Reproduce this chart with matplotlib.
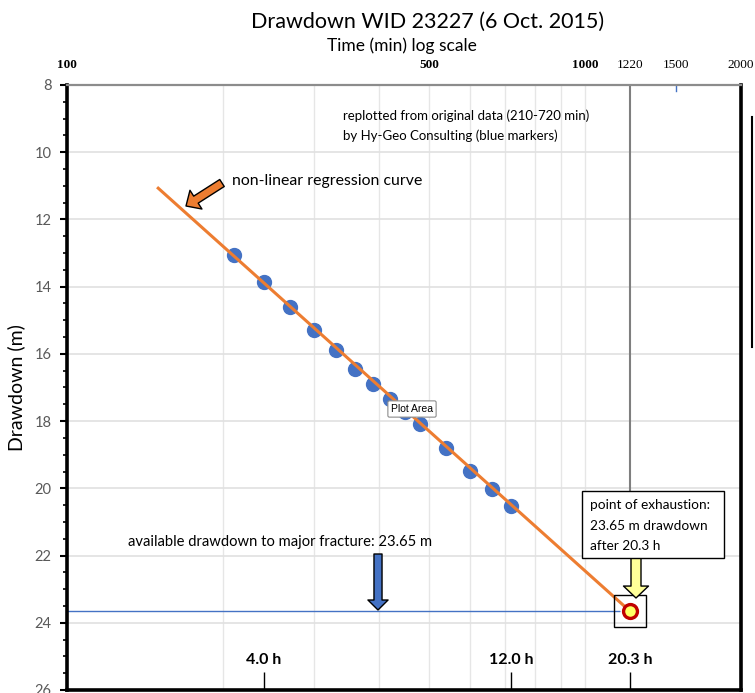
import numpy as np
import matplotlib
matplotlib.use('Agg')
import matplotlib.pyplot as plt
from matplotlib.patches import Rectangle
from matplotlib.lines import Line2D
from matplotlib.ticker import FixedLocator, MultipleLocator, NullLocator, FixedFormatter, NullFormatter

plt.rcParams['font.family'] = ['Lato', 'DejaVu Sans']

# measured drawdown (blue markers), 210-720 min
time_min = [210, 240, 270, 300, 330, 360, 390, 420, 450, 480, 540, 600, 660, 720]
drawdown_m = [13.07, 13.86, 14.61, 15.30, 15.88, 16.45, 16.91, 17.34, 17.74, 18.08,
              18.80, 19.48, 20.02, 20.52]

# regression curve (straight on semi-log)
curve_time = [150, 1220]
curve_drawdown = [11.07, 23.65]

# point of exhaustion
exhaust_time = 1220
exhaust_drawdown = 23.65
available_drawdown = 23.65

top_ticks = [100, 500, 1000, 1220, 1500, 2000]
top_labels = ['100', '500', '1000', '1220', '1500', '2000']
hour_ticks = [240, 720, 1220]
hour_labels = ['4.0 h', '12.0 h', '20.3 h']
grid_times = [200, 300, 400, 500, 600, 700, 800, 900, 1000]

W, H = 755, 693
TOP, BOT, LEFT, RIGHT = 85, 690, 67, 741


def f(x, y):
    # pixel position -> figure fraction
    return (x / W, 1 - y / H)


fig = plt.figure(figsize=(W / 100, H / 100), dpi=100)
ax = fig.add_axes([LEFT / W, 1 - BOT / H, (RIGHT - LEFT) / W, (BOT - TOP) / H])

ax.set_xscale('log')
ax.set_xlim(100, 2000)
ax.set_ylim(26, 8)

# y axis
ax.yaxis.set_major_locator(FixedLocator(np.arange(8, 27, 2)))
ax.yaxis.set_major_formatter(FixedFormatter([str(v) for v in range(8, 27, 2)]))
ax.yaxis.set_minor_locator(MultipleLocator(0.5))
ax.yaxis.set_minor_formatter(NullFormatter())
ax.tick_params(axis='y', which='major', length=5, width=1.5, color='black',
               labelcolor='#595959', labelsize=10.5, pad=6)
ax.tick_params(axis='y', which='minor', length=3, width=1.2, color='black')

# bottom x axis: hour marks drawn inward
ax.xaxis.set_major_locator(FixedLocator(hour_ticks))
ax.xaxis.set_major_formatter(NullFormatter())
ax.xaxis.set_minor_locator(FixedLocator(grid_times))
ax.xaxis.set_minor_formatter(NullFormatter())
ax.tick_params(axis='x', which='major', direction='in', length=13, width=1, color='black')
ax.tick_params(axis='x', which='minor', length=0)

ax.grid(axis='x', which='minor', color='#E6E6E6', lw=1)
ax.grid(axis='y', which='major', color='#E0E0E0', lw=1.2)
ax.set_axisbelow(True)

for s in ['left', 'bottom', 'right']:
    ax.spines[s].set_linewidth(2.6)
    ax.spines[s].set_color('black')
ax.spines['top'].set_linewidth(1.6)
ax.spines['top'].set_color('#8C8C8C')

# top axis labels
sec = ax.secondary_xaxis('top')
sec.xaxis.set_major_locator(FixedLocator(top_ticks))
sec.xaxis.set_major_formatter(FixedFormatter(top_labels))
sec.xaxis.set_minor_locator(NullLocator())
sec.tick_params(length=0, pad=10, labelsize=9.5)
sec.spines['top'].set_visible(False)
for lab, t in zip(sec.get_xticklabels(), top_labels):
    lab.set_family(['Liberation Serif', 'DejaVu Serif'])
    if t in ('100', '500', '1000'):
        lab.set_fontweight('bold')

# small blue mark on the top edge at 1500
ax.plot([1500, 1500], [1.0, 0.99], transform=ax.get_xaxis_transform(), color='#4472C4',
        lw=1, clip_on=False)

ax.set_ylabel('Drawdown (m)', fontsize=14)
ax.yaxis.set_label_coords(-0.062, 0.5)

for t, lab in zip(hour_ticks, hour_labels):
    ax.text(t, 0.05, lab, transform=ax.get_xaxis_transform(), ha='center', va='center',
            fontsize=11.5, fontweight='bold')

# lines and markers
ax.vlines(exhaust_time, 8, 20.1, color='#7F7F7F', lw=1.5, zorder=2)
ax.hlines(available_drawdown, 100, 1167, color='#4472C4', lw=1, zorder=2)
ax.plot(time_min, drawdown_m, 'o', ms=10, color='#4472C4', zorder=3)
ax.plot(curve_time, curve_drawdown, '-', color='#ED7D31', lw=2.2, zorder=4)
ax.plot([exhaust_time], [exhaust_drawdown], 's', ms=23.5, mfc='none', mec='black', mew=1,
        zorder=4)
ax.plot([exhaust_time], [exhaust_drawdown], 'o', ms=10, mfc='#FFFF66', mec='#C00000',
        mew=2.4, zorder=5)

# texts
fig.text(*f(428, 22), 'Drawdown WID 23227 (6 Oct. 2015)', ha='center', va='center', fontsize=15.5)
fig.text(*f(402, 46), 'Time (min) log scale', ha='center', va='center', fontsize=12.5)
fig.text(*f(343, 116), 'replotted from original data (210-720 min)', ha='left', va='center',
         fontsize=9.5)
fig.text(*f(343, 136), 'by Hy-Geo Consulting (blue markers)', ha='left', va='center', fontsize=9.5)
fig.text(*f(232, 181), 'non-linear regression curve', ha='left', va='center', fontsize=11.4)
fig.text(*f(128, 542), 'available drawdown to major fracture: 23.65 m', ha='left', va='center',
         fontsize=10.6)

fig.add_artist(Rectangle(f(582, 558), 142 / W, 67 / H, transform=fig.transFigure,
                         fc='white', ec='black', lw=1, zorder=6))
for yy, line in zip([505, 526, 546], ['point of exhaustion:', '23.65 m drawdown', 'after 20.3 h']):
    fig.text(*f(590, yy), line, ha='left', va='center', fontsize=9.8, zorder=7)

fig.text(*f(391, 409), 'Plot Area', ha='left', va='center', fontsize=7.5,
         family=['Liberation Sans', 'DejaVu Sans'], zorder=8,
         bbox=dict(boxstyle='round,pad=0.3,rounding_size=0.15', fc='white', ec='#8C8C8C', lw=0.8))


# block arrows
def block_arrow(tail, tip, color, tw, hw, hl):
    ax.annotate('', xy=f(*tip), xycoords='figure fraction', xytext=f(*tail),
                textcoords='figure fraction',
                arrowprops=dict(arrowstyle=f'simple,head_length={hl},head_width={hw},tail_width={tw}',
                                fc=color, ec='black', lw=1, shrinkA=0, shrinkB=0,
                                mutation_scale=10), zorder=6)


block_arrow((222, 183), (186, 206), '#ED7D31', 0.6, 1.6, 0.85)
block_arrow((378, 554), (378, 610), '#4472C4', 0.58, 1.45, 0.72)
block_arrow((636, 557), (636, 598), '#FFFF99', 0.72, 1.8, 0.86)

# stray frame edge at right of the screenshot
fig.add_artist(Line2D([752 / W, 752 / W], [1 - 117 / H, 1 - 347 / H], color='black', lw=1.5,
                      transform=fig.transFigure))

fig.savefig('out.png', dpi=100)
